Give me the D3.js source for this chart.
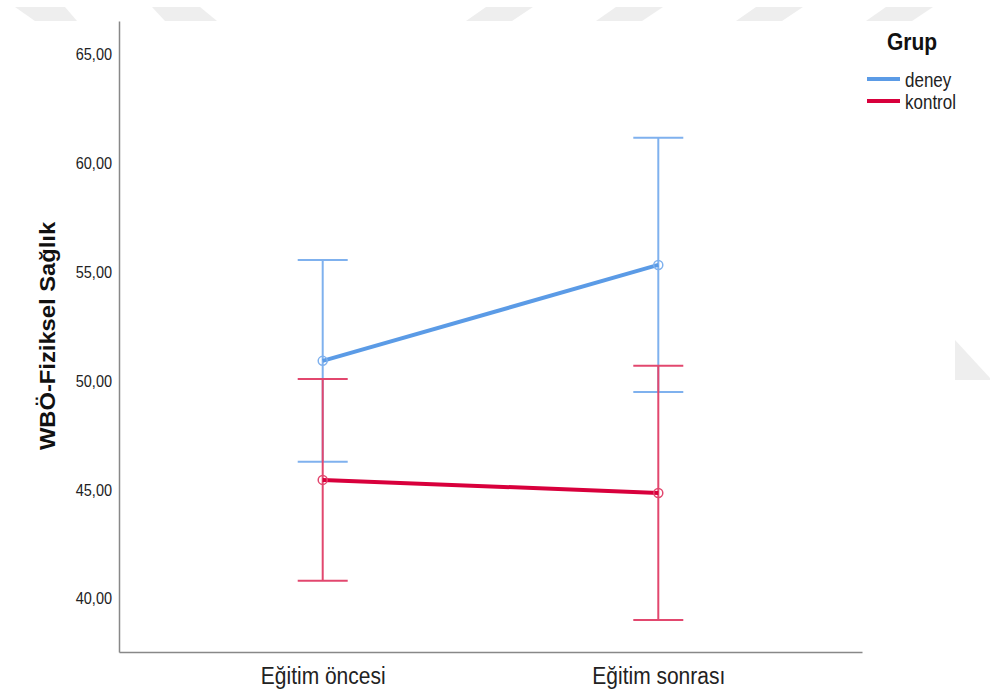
<!DOCTYPE html>
<html>
<head>
<meta charset="utf-8">
<script src="https://cdn.jsdelivr.net/npm/d3@7"></script>
<style>
  body { margin: 0; background: #fff; }
  svg { display: block; font-family: "Liberation Sans", Arial, sans-serif; }
</style>
</head>
<body>
<svg id="chart" width="990" height="692"></svg>
<script>
const categories = ["Eğitim öncesi", "Eğitim sonrası"];
const groups = ["deney", "kontrol"];
const deneyMean = [50.94, 55.35];
const deneyUpper = [55.58, 61.19];
const deneyLower = [46.30, 49.51];
const kontrolMean = [45.47, 44.87];
const kontrolUpper = [50.11, 50.71];
const kontrolLower = [40.83, 39.03];
const yTicks = [40, 45, 50, 55, 60, 65];

const series = [
  { name: groups[0], mean: deneyMean, upper: deneyUpper, lower: deneyLower, line: "#5b9be6", bar: "#7fb1ee" },
  { name: groups[1], mean: kontrolMean, upper: kontrolUpper, lower: kontrolLower, line: "#d8003c", bar: "#e2476e" }
];

const svg = d3.select("#chart");
const FONT = "'Liberation Sans', Arial, sans-serif";

// faint watermark shapes
const wm = svg.append("g").attr("fill", "#eeeeee");
[[15, 65, 35, 77], [152, 200, 165, 217]].forEach(([a, b, c, d]) => {
  wm.append("polygon").attr("points", `${a},7 ${b},7 ${d},21 ${c},21`);
});
[[486, 533, 466, 512], [616, 663, 596, 642], [756, 803, 736, 782], [886, 933, 866, 912]].forEach(([a, b, c, d]) => {
  wm.append("polygon").attr("points", `${a},7 ${b},7 ${d},21 ${c},21`);
});
wm.append("polygon").attr("points", "955,340 990,378 990,380 955,380");

const x = d3.scalePoint().domain(categories).range([119, 862]).padding(0.607);
const y = d3.scaleLinear().domain([37.56, 66.56]).range([652, 21]);

// axes
const yAxis = svg.append("g").attr("transform", "translate(119,0)")
  .call(d3.axisLeft(y).tickValues(yTicks).tickSize(0).tickPadding(7)
    .tickFormat(d => d3.format(".2f")(d).replace(".", ",")));
yAxis.select(".domain").attr("stroke", "#888").attr("stroke-width", 1.5);
yAxis.selectAll("text").attr("font-size", 14.5).attr("fill", "#222")
  .attr("font-family", FONT).attr("dy", "0.3em")
  .attr("transform", "scale(1,1.15)");

const xAxis = svg.append("g").attr("transform", "translate(0,652)")
  .call(d3.axisBottom(x).tickSize(0));
xAxis.select(".domain").attr("stroke", "#888").attr("stroke-width", 1.5);
xAxis.selectAll("text").attr("font-size", 21).attr("fill", "#222")
  .attr("font-family", FONT).attr("dy", null)
  .attr("y", 32 / 1.13)
  .attr("transform", "scale(1,1.13)");

// y title
svg.append("text")
  .attr("transform", "translate(55,336) rotate(-90) scale(1.08,1)")
  .attr("text-anchor", "middle")
  .attr("font-size", 22).attr("font-weight", "bold").attr("fill", "#111")
  .text("WBÖ-Fiziksel Sağlık");

const capW = 25;
series.forEach(s => {
  const g = svg.append("g");
  categories.forEach((c, i) => {
    const cx = x(c);
    g.append("line").attr("x1", cx).attr("x2", cx)
      .attr("y1", y(s.upper[i])).attr("y2", y(s.lower[i]))
      .attr("stroke", s.bar).attr("stroke-width", 2);
    [s.upper[i], s.lower[i]].forEach(v => {
      g.append("line").attr("x1", cx - capW).attr("x2", cx + capW)
        .attr("y1", y(v)).attr("y2", y(v))
        .attr("stroke", s.bar).attr("stroke-width", 2);
    });
  });
  g.append("path")
    .datum(s.mean)
    .attr("d", d3.line().x((d, i) => x(categories[i])).y(d => y(d)))
    .attr("fill", "none").attr("stroke", s.line).attr("stroke-width", 4);
  g.selectAll("circle").data(s.mean).join("circle")
    .attr("cx", (d, i) => x(categories[i])).attr("cy", d => y(d))
    .attr("r", 4.5).attr("fill", "none")
    .attr("stroke", s.bar).attr("stroke-width", 1.5);
});

// legend
const lg = svg.append("g");
lg.append("text")
  .attr("transform", "translate(912,50) scale(1,1.1)")
  .attr("text-anchor", "middle")
  .attr("font-size", 21).attr("font-weight", "bold").attr("fill", "#111").text("Grup");
series.forEach((s, i) => {
  const yy = 79 + i * 22;
  lg.append("line").attr("x1", 867).attr("x2", 900).attr("y1", yy).attr("y2", yy)
    .attr("stroke", s.line).attr("stroke-width", 4);
  lg.append("text")
    .attr("transform", `translate(905,${yy + 8}) scale(1,1.15)`)
    .attr("font-size", 17).attr("fill", "#222")
    .text(s.name);
});
</script>
</body>
</html>
